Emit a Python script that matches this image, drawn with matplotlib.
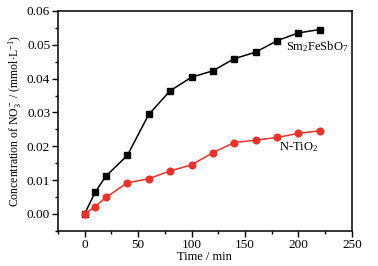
import matplotlib
matplotlib.use("Agg")
from matplotlib import pyplot as plt
from matplotlib.ticker import MultipleLocator

plt.rcParams['font.family'] = ['Liberation Serif', 'DejaVu Serif']
plt.rcParams['mathtext.fontset'] = 'custom'
plt.rcParams['mathtext.rm'] = 'Liberation Serif'
plt.rcParams['mathtext.it'] = 'Liberation Serif:italic'

# time (min)
time = [0, 10, 20, 40, 60, 80, 100, 120, 140, 160, 180, 200, 220]
# NO3- concentration (mmol/L)
sm2fesbo7 = [0, 0.0065, 0.0112, 0.0173, 0.0294, 0.0364, 0.0404, 0.0423,
             0.0459, 0.0478, 0.0512, 0.0535, 0.0545]
n_tio2 = [0, 0.0022, 0.0049, 0.0092, 0.0104, 0.0127, 0.0145, 0.0181,
          0.0211, 0.0218, 0.0226, 0.0238, 0.0246]

fig = plt.figure(figsize=(3.78, 2.66), dpi=100)
ax = fig.add_axes([0.153, 0.132, 0.778, 0.827])

ax.plot(time, sm2fesbo7, color="black", marker="s", markersize=4.5, lw=1.1)
ax.plot(time, n_tio2, color="#e8322b", marker="o", markersize=4.8, lw=1.1)

ax.text(188, 0.0494, "Sm$_2$FeSbO$_7$", fontsize=9, va="center")
ax.text(182, 0.0198, "N-TiO$_2$", fontsize=9, va="center")

ax.set_xlim(-25, 250)
ax.set_ylim(-0.005, 0.06)
ax.xaxis.set_major_locator(MultipleLocator(50))
ax.xaxis.set_minor_locator(MultipleLocator(25))
ax.yaxis.set_major_locator(MultipleLocator(0.01))
ax.yaxis.set_minor_locator(MultipleLocator(0.005))
ax.yaxis.set_major_formatter(matplotlib.ticker.FormatStrFormatter("%.2f"))
ax.tick_params(which="major", direction="out", length=4, width=1, labelsize=9.5, pad=1.5)
ax.tick_params(which="minor", direction="out", length=2, width=1)
for s in ax.spines.values():
    s.set_linewidth(1.1)

ax.set_xlabel("Time / min", fontsize=9, labelpad=0)
ax.set_ylabel("Concentration of NO$_3^-$ / (mmol$\\cdot$L$^{-1}$)", fontsize=8.5, labelpad=2)

fig.savefig("out.png", dpi=100)
plt.close()
